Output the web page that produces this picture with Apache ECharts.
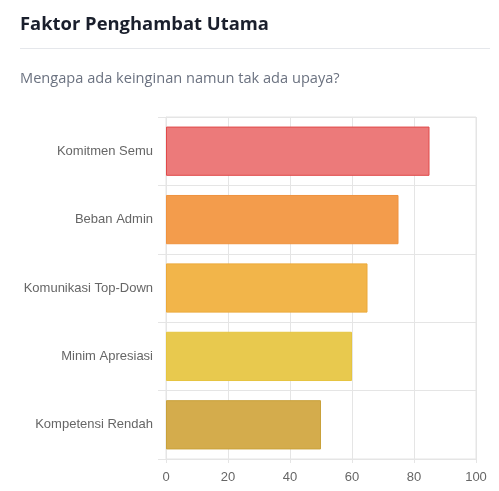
<!DOCTYPE html>
<html>
<head>
<meta charset="utf-8">
<script src="https://cdn.jsdelivr.net/npm/echarts@6/dist/echarts.min.js"></script>
<style>
  html, body { margin: 0; padding: 0; background: #fff; }
  #chart { width: 499px; height: 491px; }
</style>
</head>
<body>
<div id="chart"></div>
<script>
// data
const categories = ['Komitmen Semu', 'Beban Admin', 'Komunikasi Top-Down', 'Minim Apresiasi', 'Kompetensi Rendah'];
const values = [85, 75, 65, 60, 50];
const fillColors = ['#ec7a7a', '#f39c4c', '#f2b54a', '#e8c94e', '#d4ac4c'];
const borderColors = ['#e04a4a', '#f0923e', '#eca93a', '#e6c540', '#c9a13a'];

const chart = echarts.init(document.getElementById('chart'));

const option = {
    animation: false,
    title: [
        {
            text: 'Faktor Penghambat Utama',
            left: 20,
            top: 16,
            padding: 0,
            textStyle: {
                color: '#1a1f2c',
                fontSize: 18.4,
                fontWeight: 'bold',
                fontFamily: 'Open Sans'
            }
        },
        {
            text: 'Mengapa ada keinginan namun tak ada upaya?',
            left: 20,
            top: 71,
            padding: 0,
            textStyle: {
                color: '#6b7280',
                fontSize: 14.6,
                fontWeight: 'normal',
                fontFamily: 'Open Sans'
            }
        }
    ],
    graphic: [
        {
            type: 'line',
            shape: { x1: 20, y1: 48.5, x2: 490, y2: 48.5 },
            style: { stroke: '#e5e7eb', lineWidth: 1 }
        }
    ],
    grid: {
        left: 166,
        right: 23,
        top: 117,
        bottom: 32,
        show: true,
        borderColor: '#e5e5e5',
        borderWidth: 1
    },
    xAxis: {
        type: 'value',
        min: 0,
        max: 100,
        interval: 20,
        axisLine: { show: false },
        axisTick: { show: true, length: 4, lineStyle: { color: '#e5e5e5' } },
        splitLine: { show: true, lineStyle: { color: '#e5e5e5' } },
        axisLabel: {
            color: '#666',
            fontSize: 13,
            fontFamily: 'Liberation Sans',
            margin: 12
        }
    },
    yAxis: {
        type: 'category',
        data: categories,
        inverse: true,
        axisLine: { show: true, lineStyle: { color: '#e5e5e5' } },
        axisTick: { show: true, length: 8, lineStyle: { color: '#e5e5e5' } },
        splitLine: { show: true, lineStyle: { color: '#e5e5e5' } },
        axisLabel: {
            color: '#666',
            fontSize: 13,
            fontFamily: 'Liberation Sans',
            margin: 13
        }
    },
    series: [
        {
            type: 'bar',
            data: values.map((v, i) => ({
                value: v,
                itemStyle: {
                    color: fillColors[i],
                    borderColor: borderColors[i],
                    borderWidth: 1
                }
            })),
            barWidth: '72%'
        }
    ]
};

chart.setOption(option);
</script>
</body>
</html>
